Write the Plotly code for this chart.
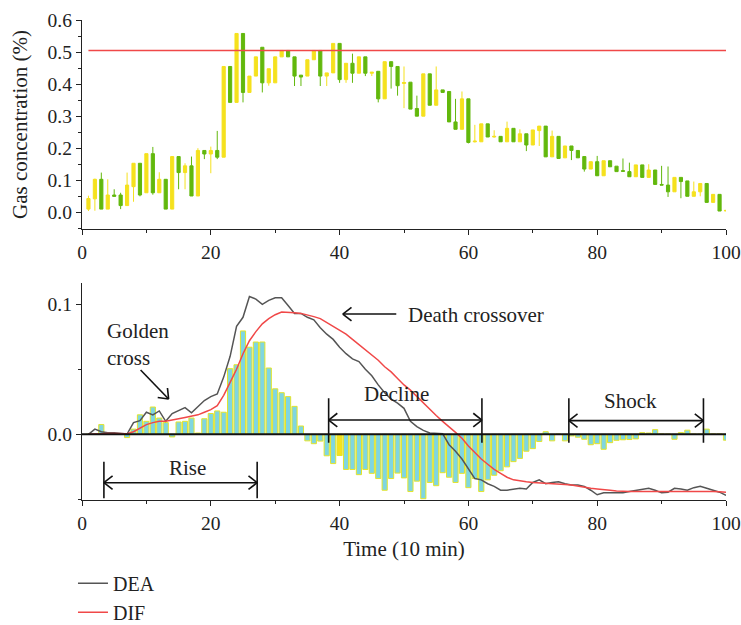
import plotly.graph_objects as go
import math

# ---------------- data ----------------
time = list(range(1, 101))

open_ = [0.010, 0.042, 0.103, 0.010, 0.054, 0.054, 0.021, 0.080, 0.153, 0.061,
         0.183, 0.061, 0.103, 0.010, 0.174, 0.124, 0.145, 0.051, 0.193, 0.182,
         0.193, 0.172, 0.455, 0.343, 0.558, 0.374, 0.425, 0.515, 0.404, 0.404,
         0.485, 0.505, 0.485, 0.428, 0.425, 0.476, 0.505, 0.425, 0.435, 0.527,
         0.414, 0.465, 0.434, 0.485, 0.434, 0.440, 0.354, 0.470, 0.455, 0.402,
         0.406, 0.324, 0.300, 0.432, 0.334, 0.382, 0.377, 0.282, 0.259, 0.354,
         0.220, 0.220, 0.276, 0.235, 0.237, 0.220, 0.262, 0.220, 0.245, 0.210,
         0.255, 0.269, 0.173, 0.237, 0.170, 0.207, 0.193, 0.174, 0.135, 0.158,
         0.114, 0.161, 0.144, 0.130, 0.127, 0.111, 0.148, 0.109, 0.132, 0.087,
         0.085, 0.064, 0.109, 0.098, 0.050, 0.064, 0.090, 0.031, 0.056, 0.004]
high = [0.052, 0.105, 0.124, 0.103, 0.072, 0.061, 0.124, 0.153, 0.153, 0.183,
        0.204, 0.125, 0.103, 0.174, 0.174, 0.153, 0.174, 0.200, 0.193, 0.205,
        0.254, 0.455, 0.455, 0.558, 0.558, 0.425, 0.485, 0.515, 0.448, 0.485,
        0.505, 0.505, 0.485, 0.428, 0.476, 0.505, 0.505, 0.435, 0.527, 0.527,
        0.465, 0.495, 0.485, 0.485, 0.437, 0.440, 0.470, 0.470, 0.455, 0.455,
        0.406, 0.364, 0.432, 0.432, 0.455, 0.382, 0.377, 0.354, 0.377, 0.354,
        0.273, 0.276, 0.276, 0.256, 0.237, 0.283, 0.262, 0.259, 0.245, 0.257,
        0.269, 0.269, 0.255, 0.237, 0.207, 0.207, 0.193, 0.174, 0.158, 0.176,
        0.161, 0.161, 0.144, 0.168, 0.155, 0.148, 0.148, 0.150, 0.132, 0.145,
        0.143, 0.109, 0.109, 0.098, 0.096, 0.090, 0.090, 0.056, 0.056, 0.006]
low = [0.004, 0.005, 0.010, 0.010, 0.049, 0.010, 0.021, 0.033, 0.050, 0.061,
       0.055, 0.061, 0.010, 0.010, 0.072, 0.072, 0.051, 0.051, 0.166, 0.122,
       0.166, 0.172, 0.343, 0.343, 0.343, 0.374, 0.425, 0.374, 0.395, 0.404,
       0.485, 0.485, 0.394, 0.394, 0.425, 0.476, 0.394, 0.394, 0.435, 0.404,
       0.404, 0.404, 0.434, 0.425, 0.425, 0.343, 0.354, 0.386, 0.364, 0.325,
       0.322, 0.300, 0.300, 0.334, 0.334, 0.374, 0.282, 0.259, 0.259, 0.215,
       0.218, 0.220, 0.235, 0.233, 0.220, 0.220, 0.220, 0.220, 0.191, 0.210,
       0.207, 0.173, 0.173, 0.168, 0.170, 0.163, 0.170, 0.127, 0.135, 0.114,
       0.114, 0.142, 0.127, 0.128, 0.111, 0.111, 0.109, 0.109, 0.087, 0.085,
       0.048, 0.064, 0.044, 0.050, 0.050, 0.050, 0.031, 0.031, 0.004, 0.004]
close = [0.043, 0.103, 0.010, 0.054, 0.050, 0.021, 0.085, 0.153, 0.054, 0.183,
         0.061, 0.103, 0.010, 0.174, 0.124, 0.145, 0.051, 0.193, 0.182, 0.193,
         0.172, 0.455, 0.343, 0.558, 0.374, 0.425, 0.485, 0.404, 0.448, 0.485,
         0.505, 0.485, 0.425, 0.422, 0.476, 0.505, 0.425, 0.435, 0.527, 0.414,
         0.465, 0.434, 0.485, 0.434, 0.437, 0.354, 0.470, 0.455, 0.395, 0.405,
         0.322, 0.300, 0.432, 0.334, 0.382, 0.374, 0.282, 0.259, 0.354, 0.218,
         0.222, 0.276, 0.235, 0.237, 0.220, 0.262, 0.220, 0.245, 0.210, 0.257,
         0.269, 0.173, 0.237, 0.168, 0.207, 0.193, 0.170, 0.135, 0.158, 0.114,
         0.161, 0.142, 0.127, 0.128, 0.111, 0.148, 0.109, 0.132, 0.087, 0.085,
         0.064, 0.109, 0.096, 0.050, 0.064, 0.090, 0.031, 0.056, 0.004, 0.006]
threshold = 0.505

macd_bar = [0.0000, 0.0000, 0.0075, 0.0005, 0.0005, 0.0003, -0.0025, 0.0040, 0.0150, 0.0100,
            0.0210, 0.0125, 0.0090, -0.0020, 0.0095, 0.0100, 0.0125, 0.0010, 0.0120, 0.0160,
            0.0180, 0.0170, 0.0505, 0.0535, 0.0795, 0.0670, 0.0710, 0.0710, 0.0510, 0.0350,
            0.0320, 0.0290, 0.0215, 0.0064, -0.0050, -0.0072, -0.0052, -0.0165, -0.0225, -0.0163,
            -0.0270, -0.0270, -0.0310, -0.0270, -0.0300, -0.0340, -0.0430, -0.0340, -0.0298, -0.0335,
            -0.0440, -0.0360, -0.0495, -0.0370, -0.0395, -0.0295, -0.0330, -0.0370, -0.0300, -0.0410,
            -0.0340, -0.0440, -0.0350, -0.0315, -0.0280, -0.0250, -0.0210, -0.0185, -0.0130, -0.0110,
            -0.0055, 0.0020, -0.0050, 0.0002, -0.0050, -0.0012, -0.0022, -0.0038, -0.0080, -0.0072,
            -0.0115, -0.0064, -0.0046, -0.0042, -0.0040, -0.0035, 0.0013, 0.0010, 0.0036, 0.0003,
            0.0002, -0.0038, 0.0013, 0.0032, 0.0002, 0.0002, 0.0040, 0.0003, 0.0003, -0.0045]

dea = [0.0000, 0.0040, 0.0020, 0.0012, 0.0012, 0.0008, 0.0002, 0.0090, 0.0105, 0.0170,
       0.0150, 0.0180, 0.0100, 0.0160, 0.0185, 0.0205, 0.0165, 0.0210, 0.0260, 0.0290,
       0.0310, 0.0440, 0.0600, 0.0830, 0.0900, 0.1060, 0.1040, 0.1000, 0.1030, 0.1050,
       0.1050, 0.0990, 0.0930, 0.0930, 0.0900, 0.0880, 0.0820, 0.0770, 0.0730, 0.0670,
       0.0620, 0.0580, 0.0560, 0.0500, 0.0450, 0.0380, 0.0320, 0.0270, 0.0240, 0.0200,
       0.0100, 0.0060, 0.0030, 0.0010, 0.0008, 0.0005, -0.0080, -0.0130, -0.0190, -0.0270,
       -0.0340, -0.0350, -0.0380, -0.0400, -0.0430, -0.0430, -0.0420, -0.0415, -0.0420, -0.0370,
       -0.0350, -0.0380, -0.0370, -0.0365, -0.0380, -0.0390, -0.0390, -0.0400, -0.0430, -0.0465,
       -0.0450, -0.0450, -0.0450, -0.0450, -0.0440, -0.0430, -0.0420, -0.0415, -0.0430, -0.0450,
       -0.0445, -0.0415, -0.0420, -0.0430, -0.0410, -0.0400, -0.0415, -0.0430, -0.0445, -0.0470]

dif = [0.0000, 0.0003, 0.0005, 0.0006, 0.0006, 0.0005, 0.0005, 0.0020, 0.0045, 0.0075,
       0.0090, 0.0100, 0.0100, 0.0112, 0.0120, 0.0130, 0.0140, 0.0150, 0.0170, 0.0190,
       0.0220, 0.0300, 0.0400, 0.0500, 0.0620, 0.0720, 0.0790, 0.0850, 0.0890, 0.0920,
       0.0940, 0.0940, 0.0935, 0.0930, 0.0920, 0.0905, 0.0890, 0.0860, 0.0830, 0.0800,
       0.0770, 0.0730, 0.0690, 0.0650, 0.0610, 0.0570, 0.0520, 0.0480, 0.0430, 0.0380,
       0.0340, 0.0290, 0.0240, 0.0190, 0.0145, 0.0100, 0.0060, 0.0015, -0.0030, -0.0090,
       -0.0140, -0.0190, -0.0230, -0.0270, -0.0300, -0.0330, -0.0350, -0.0360, -0.0365, -0.0370,
       -0.0372, -0.0375, -0.0378, -0.0380, -0.0385, -0.0390, -0.0400, -0.0410, -0.0415, -0.0420,
       -0.0427, -0.0430, -0.0435, -0.0440, -0.0440, -0.0440, -0.0440, -0.0440, -0.0440, -0.0440,
       -0.0440, -0.0440, -0.0438, -0.0436, -0.0435, -0.0436, -0.0438, -0.0440, -0.0442, -0.0445]

# ---------------- styles ----------------
FONT = "Liberation Serif"
YEL = "#F5E11E"
GRN = "#62B80C"
CYAN = "#7FD6E0"
BAR_EDGE = "#E4E42A"
RED = "#F04848"
GRAY = "#555555"
AX = "#222222"

bar_colors = [CYAN] * len(time)
bar_colors[39] = YEL  # bar at t=40 is filled yellow

fig = go.Figure()

fig.add_trace(go.Candlestick(
    x=time, open=open_, high=high, low=low, close=close,
    xaxis="x", yaxis="y",
    increasing=dict(fillcolor=YEL, line=dict(color=YEL, width=1)),
    decreasing=dict(fillcolor=GRN, line=dict(color=GRN, width=1)),
    whiskerwidth=0, showlegend=False, hoverinfo="skip"))

fig.add_trace(go.Scatter(
    x=[time[0], time[-1]], y=[threshold, threshold], mode="lines",
    line=dict(color=RED, width=1.5), xaxis="x", yaxis="y", showlegend=False))

fig.add_trace(go.Bar(
    x=time, y=macd_bar, xaxis="x2", yaxis="y2", width=0.8,
    marker=dict(color=bar_colors, line=dict(color=BAR_EDGE, width=1)),
    showlegend=False))

fig.add_trace(go.Scatter(
    x=time, y=dea, mode="lines", name="DEA", xaxis="x2", yaxis="y2",
    line=dict(color=GRAY, width=1.5)))
fig.add_trace(go.Scatter(
    x=time, y=dif, mode="lines", name="DIF", xaxis="x2", yaxis="y2",
    line=dict(color=RED, width=1.5)))

tickfont = dict(family=FONT, size=19.5, color=AX)
titlefont = dict(family=FONT, size=21, color=AX)

xcommon = dict(range=[0, 100], showgrid=False, zeroline=False, showline=True,
               linecolor=AX, linewidth=1.3, ticks="outside", ticklen=5,
               tickwidth=1.3, tickcolor=AX, tickvals=[0, 20, 40, 60, 80, 100],
               tickfont=tickfont,
               minor=dict(ticks="outside", ticklen=3, tickwidth=1.2,
                          tickcolor=AX, tickvals=[10, 30, 50, 70, 90], showgrid=False))

fig.update_layout(
    width=741, height=625,
    margin=dict(l=82, r=15, t=20, b=125, autoexpand=False),
    paper_bgcolor="white", plot_bgcolor="white",
    font=dict(family=FONT, size=19, color=AX),
    xaxis=dict(domain=[0, 1], anchor="y", rangeslider=dict(visible=False), **xcommon),
    yaxis=dict(domain=[0.5646, 1], anchor="x", range=[-0.052, 0.6],
               showgrid=False, zeroline=False, showline=True, linecolor=AX,
               linewidth=1.3, ticks="outside", ticklen=5, tickwidth=1.3,
               tickcolor=AX, tickvals=[0, 0.1, 0.2, 0.3, 0.4, 0.5, 0.6],
               ticktext=["0.0", "0.1", "0.2", "0.3", "0.4", "0.5", "0.6"],
               tickfont=tickfont,
               title=dict(text="Gas concentration (%)", font=titlefont, standoff=14),
               minor=dict(ticks="outside", ticklen=3, tickwidth=1.2, tickcolor=AX,
                          tickvals=[-0.05, 0.05, 0.15, 0.25, 0.35, 0.45, 0.55],
                          showgrid=False)),
    xaxis2=dict(domain=[0, 1], anchor="y2",
                title=dict(text="Time (10 min)", font=titlefont, standoff=8),
                **xcommon),
    yaxis2=dict(domain=[0, 0.4527], anchor="x2", range=[-0.0505, 0.1166],
                showgrid=False, zeroline=False, showline=True, linecolor=AX,
                linewidth=1.3, ticks="outside", ticklen=5, tickwidth=1.3,
                tickcolor=AX, tickvals=[0, 0.1], ticktext=["0.0", "0.1"],
                tickfont=tickfont,
                minor=dict(ticks="outside", ticklen=3, tickwidth=1.2, tickcolor=AX,
                           tickvals=[-0.05, 0.05], showgrid=False)),
    legend=dict(x=-0.014, y=-0.133, xanchor="left", yanchor="top",
                font=dict(family=FONT, size=20, color=AX), itemwidth=30,
                bgcolor="rgba(0,0,0,0)", tracegroupgap=0),
    bargap=0.2, showlegend=True,
)

# zero line of the lower panel
fig.add_shape(type="line", xref="x2", yref="y2", x0=0, x1=100, y0=0, y1=0,
              line=dict(color="#111111", width=2), layer="above")

# -------- annotation helpers (pixel scale of lower panel) --------
KX = 644.0 / 100.0
KY = 217.3 / (0.1166 + 0.0505)


def seg(x0, y0, x1, y1, w=1.6):
    fig.add_shape(type="line", xref="x2", yref="y2", x0=x0, y0=y0, x1=x1, y1=y1,
                  line=dict(color="#111111", width=w), layer="above")


def head(x, y, dirx_px, diry_px, L=11, ang=38):
    n = math.hypot(dirx_px, diry_px)
    ux, uy = dirx_px / n, diry_px / n
    for s in (1, -1):
        a = math.radians(ang) * s
        bx = -(ux * math.cos(a) - uy * math.sin(a))
        by = -(ux * math.sin(a) + uy * math.cos(a))
        seg(x, y, x + bx * L / KX, y + by * L / KY)


def span(xa, xb, yarrow, ytop, ybot):
    seg(xa, ytop, xa, ybot)
    seg(xb, ytop, xb, ybot)
    seg(xa, yarrow, xb, yarrow)
    head(xa, yarrow, -1, 0)
    head(xb, yarrow, 1, 0)


span(3.4, 27.2, -0.0372, -0.0211, -0.0492)
span(38.3, 62.1, 0.0110, 0.0277, -0.0065)
span(75.6, 96.5, 0.0105, 0.0277, -0.0065)

# golden cross arrow
gx0, gy0, gx1, gy1 = 9.1, 0.0495, 13.45, 0.0272
seg(gx0, gy0, gx1, gy1)
head(gx1, gy1, (gx1 - gx0) * KX, (gy1 - gy0) * KY)

# death crossover arrow
seg(48.8, 0.0925, 40.5, 0.0925)
head(40.5, 0.0925, -1, 0)

afont = dict(family=FONT, size=21, color=AX)
fig.add_annotation(x=3.5, y=0.069, xref="x2", yref="y2", text="Golden<br>cross",
                   showarrow=False, xanchor="left", align="left", font=afont)
fig.add_annotation(x=16.4, y=-0.026, xref="x2", yref="y2", text="Rise",
                   showarrow=False, font=afont)
fig.add_annotation(x=48.8, y=0.031, xref="x2", yref="y2", text="Decline",
                   showarrow=False, font=afont)
fig.add_annotation(x=85.1, y=0.026, xref="x2", yref="y2", text="Shock",
                   showarrow=False, font=afont)
fig.add_annotation(x=50.3, y=0.0918, xref="x2", yref="y2", text="Death crossover",
                   showarrow=False, xanchor="left", font=afont)

fig.write_html("out.html")
